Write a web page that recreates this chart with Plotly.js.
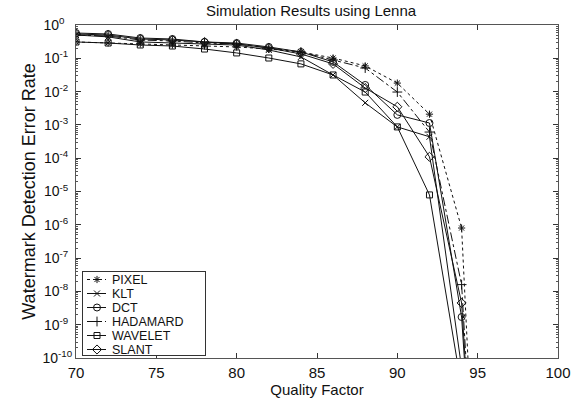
<!DOCTYPE html>
<html><head><meta charset="utf-8">
<script src="https://cdn.plot.ly/plotly-3.0.1.min.js"></script>
<style>html,body{margin:0;padding:0;background:#fff}#chart{width:575px;height:399px}</style>
</head><body><div id="chart"></div>
<script>
const quality = [70, 72, 74, 76, 78, 80, 82, 84, 86, 88, 90, 92, 94, 95];
const pixel    = [0.31, 0.29, 0.27, 0.25, 0.234, 0.219, 0.19, 0.155, 0.102, 0.059, 0.018, 0.0021, 8e-7, 1e-16];
const klt      = [0.50, 0.44, 0.31, 0.29, 0.27, 0.25, 0.178, 0.11, 0.0316, 0.0046, 0.00087, 0.00044, 5e-11, 1e-16];
const dct      = [0.575, 0.537, 0.407, 0.38, 0.309, 0.288, 0.219, 0.155, 0.078, 0.0158, 0.002, 0.00114, 1.7e-9, 1e-16];
const hadamard = [0.50, 0.468, 0.355, 0.331, 0.288, 0.269, 0.204, 0.155, 0.089, 0.051, 0.0097, 0.00061, 1.6e-8, 1e-16];
const wavelet  = [0.309, 0.288, 0.251, 0.234, 0.19, 0.145, 0.102, 0.068, 0.0316, 0.0097, 0.00087, 7.9e-6, 1.3e-11, 1e-16];
const slant    = [0.537, 0.50, 0.38, 0.355, 0.309, 0.269, 0.204, 0.135, 0.068, 0.0128, 0.0035, 0.00011, 4.5e-9, 1e-16];
const seriesNames = ['PIXEL', 'KLT', 'DCT', 'HADAMARD', 'WAVELET', 'SLANT'];
const yTickVals = [1e-10, 1e-9, 1e-8, 1e-7, 1e-6, 1e-5, 1e-4, 1e-3, 1e-2, 1e-1, 1];
const yTickExp = ['-10', '-9', '-8', '-7', '-6', '-5', '-4', '-3', '-2', '-1', '0'];
const xTickVals = [70, 75, 80, 85, 90, 95, 100];

const NB = '\u00a0';
const yTickText = yTickExp.map(e => '10<sup>' + e + '</sup>' + (e.length === 1 ? NB + NB : (e.length === 2 ? NB : '')));

const styles = [
  {dash:'dot', sym:'asterisk-open', size:6},
  {dash:'solid', sym:'x-thin-open', size:6},
  {dash:'solid', sym:'circle-open', size:7},
  {dash:'dashdot', sym:'cross-thin-open', size:7},
  {dash:'solid', sym:'square-open', size:6},
  {dash:'solid', sym:'diamond-open', size:7}
];
const values = [pixel, klt, dct, hadamard, wavelet, slant];
const traces = values.map((v, i) => ({
  x: quality, y: v, name: seriesNames[i], type:'scatter', mode:'lines+markers',
  line:{color:'#111', width:1, dash:styles[i].dash},
  marker:{symbol:styles[i].sym, size:styles[i].size, color:'#111', line:{color:'#111', width:1}}
}));
const fam = 'Liberation Sans, Arial, sans-serif';
const layout = {
  width:575, height:399,
  margin:{l:76, r:17, t:25, b:41},
  paper_bgcolor:'#fff', plot_bgcolor:'#fff',
  font:{family:fam, color:'#111', size:15},
  showlegend:true,
  title:{text:'Simulation Results using Lenna', font:{family:fam, size:15, color:'#111'}, x:0.541, xanchor:'center', y:0.985, yanchor:'top'},
  xaxis:{range:[70,100], tickvals:xTickVals, ticks:'inside', ticklen:5, tickcolor:'#333',
    showline:true, linecolor:'#555', linewidth:1, mirror:'ticks', showgrid:false, zeroline:false,
    ticklabelstandoff:1,
    title:{text:'Quality Factor', font:{size:15}, standoff:2}, tickfont:{size:15}},
  yaxis:{type:'log', range:[-10,0], tickvals:yTickVals, ticktext:yTickText, ticks:'inside', ticklen:5, tickcolor:'#333',
    showline:true, linecolor:'#555', linewidth:1, mirror:'ticks', showgrid:false, zeroline:false,
    minor:{ticks:'inside', ticklen:2, tickcolor:'#555', dtick:'D1', showgrid:false},
    title:{text:'Watermark Detection Error Rate', font:{size:18}, standoff:2}, tickfont:{size:14}},
  legend:{x:0.012, y:0.01, xanchor:'left', yanchor:'bottom', bgcolor:'#fff', bordercolor:'#333', borderwidth:1,
    font:{size:12.5, family:fam, color:'#111'}, tracegroupgap:0, itemwidth:30}
};
const gd = document.getElementById('chart');
Plotly.newPlot(gd, traces, layout, {displayModeBar:false, staticPlot:true}).then(() => {
  // tighten legend rows to match the compact reference legend
  const leg = gd.querySelector('.legend');
  if (!leg) return;
  const step = 14, first = 8.5, boxH = 84, boxW = 123;
  const items = leg.querySelectorAll('.traces');
  items.forEach((g, i) => {
    g.setAttribute('transform', 'translate(1,' + (first + i * step) + ')');
    g.querySelectorAll('.legendlines path').forEach(p => p.setAttribute('d', 'M4,0h19'));
    g.querySelectorAll('.legendpoints path').forEach(p => {
      const t = p.getAttribute('transform') || '';
      p.setAttribute('transform', t.replace(/translate\(\s*20\s*,/, 'translate(14,'));
    });
    const txt = g.querySelector('.legendtext');
    if (txt) txt.setAttribute('x', '29');
    const toggle = g.querySelector('.legendtoggle');
    if (toggle) toggle.setAttribute('height', step);
  });
  const bg = leg.querySelector('.bg');
  if (bg) { bg.setAttribute('height', boxH); bg.setAttribute('width', boxW); }
  const fs = gd._fullLayout._size;
  const bottom = fs.t + fs.h - 3;
  const left = fs.l + 6;
  leg.setAttribute('transform', 'translate(' + left + ',' + (bottom - boxH) + ')');
});
</script></body></html>
